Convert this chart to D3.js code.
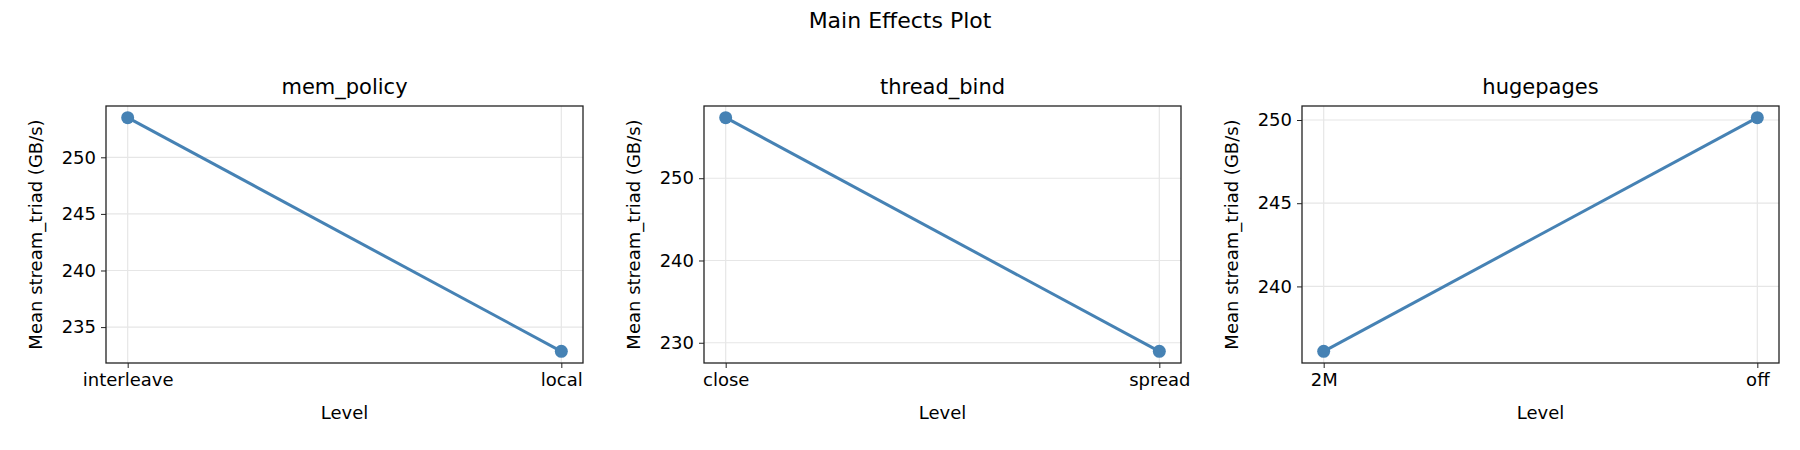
<!DOCTYPE html>
<html>
<head>
<meta charset="utf-8">
<script src="https://cdn.jsdelivr.net/npm/d3@7"></script>
<style>
  body { margin: 0; background: #fff; }
  text { font-family: "DejaVu Sans", sans-serif; fill: #000; }
</style>
</head>
<body>
<div class="chart"></div>
<script>
let FRAME_WIDTH = 1800;
let FRAME_HEIGHT = 450;

// data
let FACTORS = ["mem_policy", "thread_bind", "hugepages"];
let LEVELS = [["interleave", "local"], ["close", "spread"], ["2M", "off"]];
let MEANS = [[253.5, 232.86], [257.36, 228.96], [236.1, 250.14]];
let TICKS = [[235, 240, 245, 250], [230, 240, 250], [240, 245, 250]];

let PANEL_LEFTS = [106, 704, 1302];
let PANEL_WIDTH = 477;
let TOP = 106, BOTTOM = 363;

let svg = d3.select(".chart").append("svg")
            .attr("width", FRAME_WIDTH)
            .attr("height", FRAME_HEIGHT);

svg.append("text")
   .attr("x", FRAME_WIDTH / 2).attr("y", 28)
   .attr("text-anchor", "middle")
   .attr("font-size", "22px")
   .text("Main Effects Plot");

FACTORS.forEach((name, i) => {
    let g = svg.append("g").attr("transform", "translate(" + PANEL_LEFTS[i] + "," + TOP + ")");
    let h = BOTTOM - TOP;
    let vals = MEANS[i];
    let lo = d3.min(vals), hi = d3.max(vals), pad = (hi - lo) * 0.05;

    let x = d3.scalePoint().domain(LEVELS[i]).range([PANEL_WIDTH / 22, PANEL_WIDTH * 21 / 22]);
    let y = d3.scaleLinear().domain([lo - pad, hi + pad]).range([h, 0]);

    // grid
    g.selectAll(".gy").data(TICKS[i]).enter().append("line")
        .attr("x1", 0).attr("x2", PANEL_WIDTH)
        .attr("y1", d => y(d)).attr("y2", d => y(d))
        .attr("stroke", "#e6e6e6").attr("stroke-width", 1.2);
    g.selectAll(".gx").data(LEVELS[i]).enter().append("line")
        .attr("x1", d => x(d)).attr("x2", d => x(d))
        .attr("y1", 0).attr("y2", h)
        .attr("stroke", "#e6e6e6").attr("stroke-width", 1.2);

    let xa = g.append("g").attr("transform", "translate(0," + h + ")")
        .call(d3.axisBottom(x).tickSize(5).tickPadding(5));
    let ya = g.append("g")
        .call(d3.axisLeft(y).tickValues(TICKS[i]).tickSize(5).tickPadding(5));
    [xa, ya].forEach(a => {
        a.select(".domain").remove();
        a.selectAll("text").attr("font-size", "18px").attr("font-family", "DejaVu Sans, sans-serif");
        a.selectAll("line").attr("stroke", "#222");
    });

    g.append("rect").attr("width", PANEL_WIDTH).attr("height", h)
        .attr("fill", "none").attr("stroke", "#222").attr("stroke-width", 1.3);

    let pts = LEVELS[i].map((l, j) => [l, vals[j]]);
    g.append("path").datum(pts)
        .attr("d", d3.line().x(d => x(d[0])).y(d => y(d[1])))
        .attr("fill", "none").attr("stroke", "#4682b4").attr("stroke-width", 3);
    g.selectAll("circle").data(pts).enter().append("circle")
        .attr("cx", d => x(d[0])).attr("cy", d => y(d[1])).attr("r", 6.5)
        .attr("fill", "#4682b4");

    g.append("text").attr("x", PANEL_WIDTH / 2).attr("y", -12)
        .attr("text-anchor", "middle").attr("font-size", "21px").text(name);
    g.append("text").attr("x", PANEL_WIDTH / 2).attr("y", h + 56)
        .attr("text-anchor", "middle").attr("font-size", "18px").text("Level");
    g.append("text")
        .attr("transform", "translate(-64," + (h / 2) + ") rotate(-90)")
        .attr("text-anchor", "middle").attr("font-size", "18px")
        .text("Mean stream_triad (GB/s)");
});
</script>
</body>
</html>
